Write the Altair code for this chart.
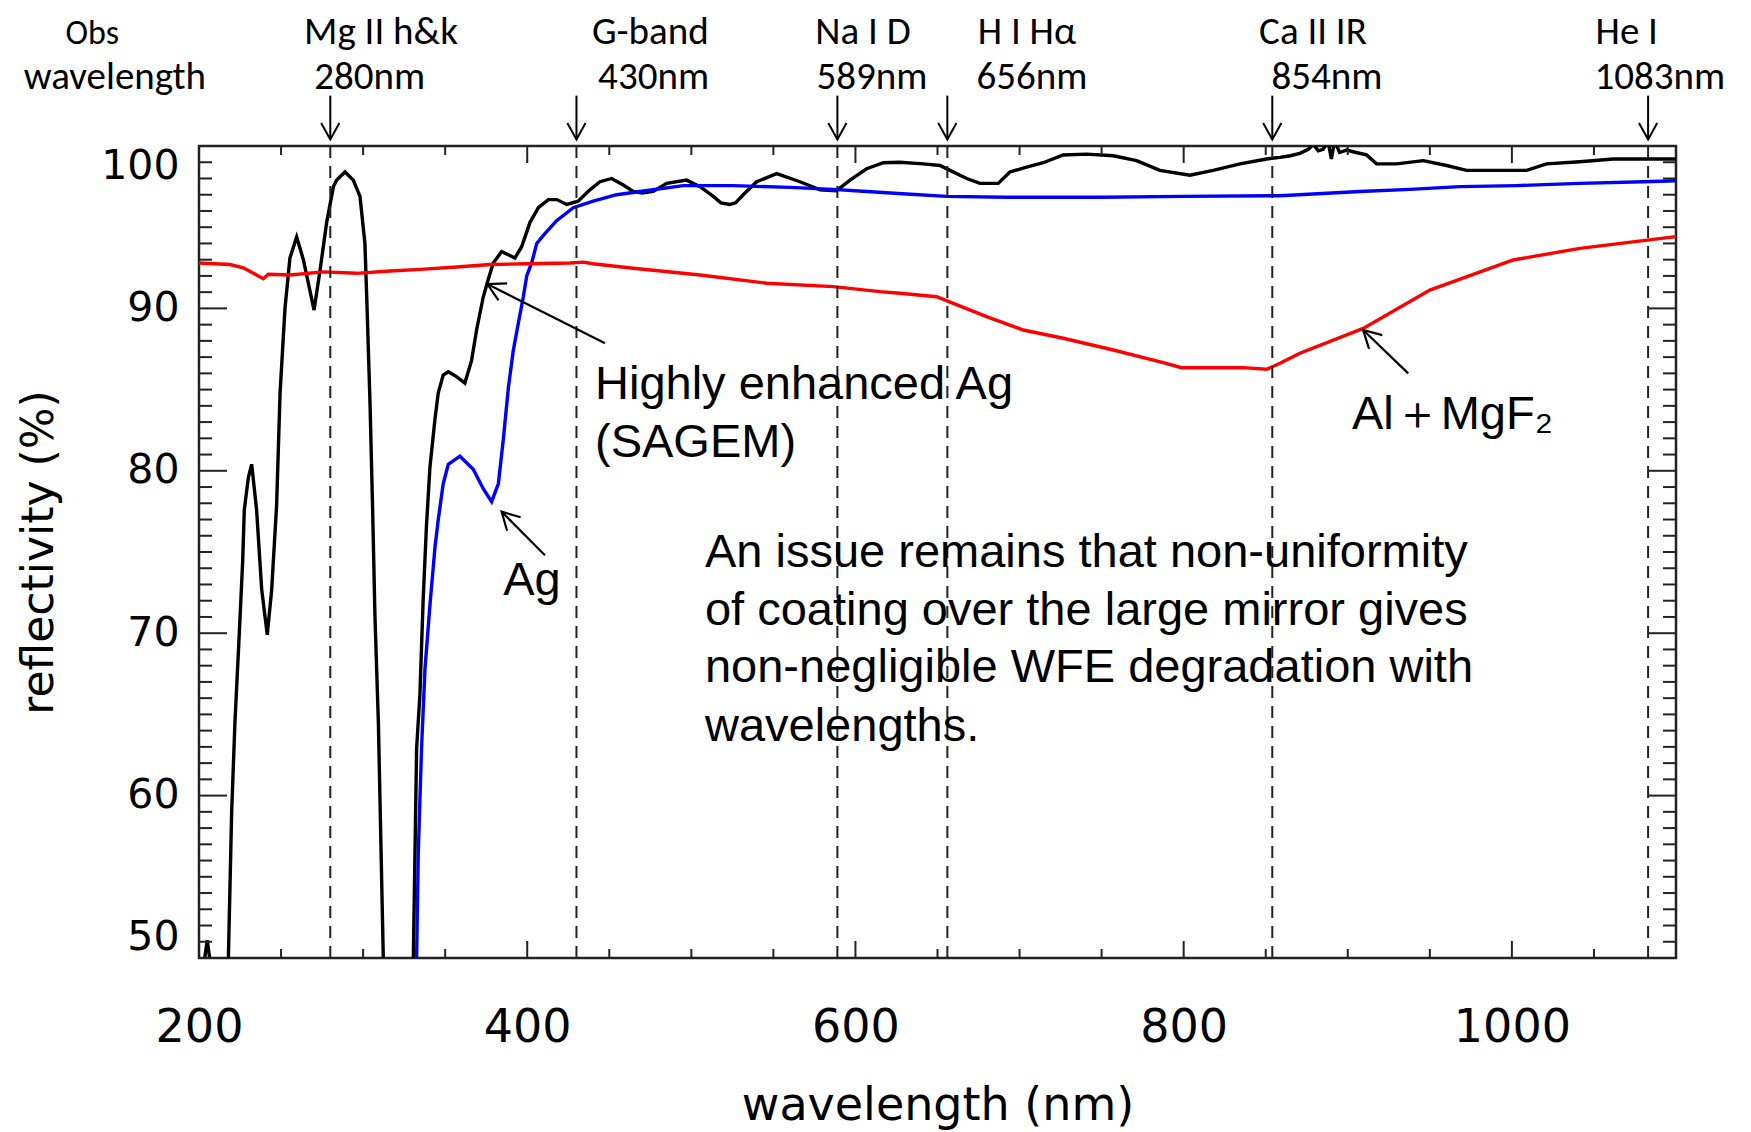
import math
import altair as alt
import pandas as pd

# ---------------- data ----------------
# Highly enhanced Ag (SAGEM) - black, three visible pieces (the curve leaves the frame below 50 %)
sagem_seg = [0, 0, 0] + [1] * 33 + [2] * 96
sagem_wl = [203.5, 205.0, 206.5,
            217.9, 219.9, 221.9, 224.6, 226.6, 227.6, 230.1, 232.1, 235.1, 238.2, 241.6, 244.3,
            247.3, 249.4, 252.4, 255.4, 259.5, 263.6, 270.1, 273.7, 277.8, 281.9, 283.9, 289.0,
            294.0, 298.1, 301.1, 302.2, 304.2, 305.8, 307.2, 309.3, 312.3,
            330.6, 332.6, 334.6, 336.6, 338.6, 340.7, 343.8, 345.8, 348.8, 351.9, 356.9, 362.0,
            366.1, 369.2, 373.2, 376.3, 379.3, 384.4, 388.5, 392.5, 396.6, 401.7, 406.8, 412.9,
            418.0, 424.1, 431.0, 438.2, 444.3, 451.4, 458.5, 464.6, 470.0, 476.8, 485.0, 497.1,
            505.3, 513.4, 518.0, 523.5, 527.0, 531.6, 539.8, 552.0, 566.2, 578.4, 588.5, 596.7,
            606.8, 617.0, 627.1, 641.3, 651.5, 657.6, 667.8, 675.9, 687.0, 694.1, 704.3, 714.4,
            726.6, 740.9, 757.1, 771.3, 785.5, 803.8, 818.0, 834.3, 850.5, 858.7, 865.0, 870.8,
            876.0, 879.0, 882.0, 885.0, 888.0, 890.0, 892.0, 895.0, 899.3, 905.0, 911.4, 917.5,
            929.7, 946.0, 960.2, 972.4, 990.7, 1009.0, 1021.1, 1041.4, 1061.7, 1100.0]
sagem_r = [50.0, 51.1, 50.0,
           50.0, 59.0, 64.5, 70.1, 74.4, 77.6, 79.6, 80.4, 77.6, 72.7, 69.9, 72.7,
           77.9, 84.8, 90.0, 93.1, 94.4, 93.0, 89.9, 92.3, 95.3, 97.5, 97.9, 98.4,
           97.9, 96.9, 94.0, 90.7, 84.2, 77.6, 71.1, 64.5, 50.0,
           50.0, 62.9, 66.2, 72.1, 76.6, 80.2, 83.2, 84.8, 85.9, 86.1, 85.8, 85.4,
           86.8, 88.7, 90.7, 91.8, 92.8, 93.5, 93.3, 93.1, 93.8, 95.3, 96.2, 96.7,
           96.7, 96.4, 96.6, 97.3, 97.8, 98.0, 97.6, 97.2, 97.1, 97.2, 97.7, 97.9,
           97.5, 96.9, 96.5, 96.4, 96.5, 97.0, 97.8, 98.3, 97.8, 97.3, 97.25, 97.9,
           98.6, 98.97, 99.0, 98.9, 98.8, 98.5, 98.0, 97.7, 97.7, 98.4, 98.7, 98.97,
           99.45, 99.5, 99.4, 99.1, 98.5, 98.2, 98.5, 98.9, 99.2, 99.3, 99.4, 99.55,
           99.8, 100.1, 99.7, 99.8, 100.3, 99.2, 100.3, 99.6, 99.75, 99.6, 99.45, 98.9,
           98.9, 99.1, 98.8, 98.5, 98.5, 98.5, 98.9, 99.03, 99.2, 99.2]

# Ag - blue
ag_wl = [332.6, 333.6, 335.6, 337.7, 340.7, 343.8, 345.8, 348.8, 351.9, 359.0, 367.1, 373.2,
         378.3, 382.4, 385.4, 388.5, 391.5, 394.6, 397.6, 399.7, 402.7, 405.8, 409.8, 417.9,
         428.1, 440.2, 454.5, 468.7, 495.1, 525.6, 560.0, 586.5, 606.8, 631.1, 655.5, 692.1,
         750.0, 799.8, 858.7, 907.4, 937.8, 968.3, 1002.9, 1041.4, 1080.0, 1100.0]
ag_r = [50.0, 56.4, 62.9, 67.8, 71.7, 75.3, 77.0, 79.2, 80.4, 80.9, 80.1, 78.9,
        78.1, 79.2, 81.9, 85.1, 87.4, 89.1, 90.7, 92.0, 92.8, 94.0, 94.5, 95.4,
        96.2, 96.6, 97.0, 97.2, 97.56, 97.56, 97.45, 97.33, 97.2, 97.04, 96.9, 96.84,
        96.84, 96.9, 96.94, 97.2, 97.33, 97.5, 97.56, 97.7, 97.8, 97.86]

# Al + MgF2 - red
al_wl = [200.0, 218.9, 227.0, 235.1, 239.2, 242.2, 255.4, 275.8, 296.1, 316.4, 335.0, 357.0,
         377.3, 400.0, 426.0, 434.2, 440.0, 464.6, 505.3, 545.9, 586.5, 614.9, 627.1, 649.5,
         659.6, 679.9, 702.2, 726.6, 757.1, 787.5, 798.7, 836.3, 850.5, 858.7, 870.8, 909.4,
         950.0, 1000.8, 1041.4, 1100.0]
al_r = [92.8, 92.7, 92.5, 92.06, 91.83, 92.1, 92.06, 92.25, 92.16, 92.3, 92.4, 92.55,
        92.7, 92.75, 92.8, 92.85, 92.75, 92.47, 92.06, 91.55, 91.34, 91.03, 90.93, 90.72,
        90.31, 89.49, 88.67, 88.16, 87.44, 86.66, 86.35, 86.35, 86.25, 86.62, 87.24, 88.77,
        91.13, 92.98, 93.7, 94.42]

# observed lines
line_wl = [280, 430, 589, 656, 854, 1083]
line_name = ["Mg II h&k", "G-band", "Na I D", "H I H\u03b1", "Ca II IR", "He I"]
line_lab = ["280nm", "430nm", "589nm", "656nm", "854nm", "1083nm"]

x_tick_labels = [200, 400, 600, 800, 1000]
y_tick_labels = [50, 60, 70, 80, 90, 100]

# ---------------- layout ----------------
W, H = 1477, 812
X_DOM, Y_DOM = [200, 1100], [50, 100]
PX_NM = W / (X_DOM[1] - X_DOM[0])
PX_PC = H / (Y_DOM[1] - Y_DOM[0])
xs = alt.Scale(domain=X_DOM, nice=False, zero=False)
ys = alt.Scale(domain=Y_DOM, nice=False, zero=False)
AXFONT = "DejaVu Sans"
TXFONT = "Liberation Sans, Arial, sans-serif"
TOPFONT = "Carlito, Lato, Liberation Sans, sans-serif"

X_AX = alt.Axis(
    values=x_tick_labels, tickSize=0, domain=False, grid=False, format="d",
    labelFlush=False, labelOverlap=False,
    labelFont=AXFONT, labelFontSize=46, labelColor="black", labelPadding=47,
    title="wavelength (nm)", titleFont=AXFONT, titleFontSize=46, titleFontWeight="normal",
    titleColor="black", titleY=147, titleBaseline="middle")
Y_AX = alt.Axis(
    values=y_tick_labels, tickSize=0, domain=False, grid=False, format="d",
    labelFont=AXFONT, labelFontSize=41, labelColor="black", labelPadding=20,
    labelFlush=True, labelOverlap=False,
    title="reflectivity (%)", titleFont=AXFONT, titleFontSize=44, titleFontWeight="normal",
    titleColor="black", titleAngle=270, titleX=-160, titleY=H / 2,
    titleBaseline="middle", titleAlign="center")


def X(field):
    return alt.X(field, scale=xs, axis=X_AX)


def Y(field):
    return alt.Y(field, scale=ys, axis=Y_AX)


rows = []
for s, w, r in zip(sagem_seg, sagem_wl, sagem_r):
    rows.append({"series": "SAGEM", "key": f"S{s}", "wl": w, "r": r})
for w, r in zip(ag_wl, ag_r):
    rows.append({"series": "Ag", "key": "Ag", "wl": w, "r": r})
for w, r in zip(al_wl, al_r):
    rows.append({"series": "AlMgF2", "key": "Al", "wl": w, "r": r})
curves_df = pd.DataFrame(rows)

curves = alt.Chart(curves_df).mark_line(strokeWidth=3.4, clip=True).encode(
    x=X("wl:Q"),
    y=Y("r:Q"),
    color=alt.Color("series:N", scale=alt.Scale(domain=["SAGEM", "Ag", "AlMgF2"],
                                                range=["#000000", "#0000ff", "#ff0000"]),
                    legend=None),
    detail="key:N",
)


# inner ticks of the IDL box
def tick_layer(vals, axis, side, length):
    df = pd.DataFrame({"v": vals})
    if axis == "x":
        y0 = H if side == "bottom" else 0
        y1 = H - length if side == "bottom" else length
        enc = dict(x=X("v:Q"), y=alt.value(y0), y2=alt.value(y1))
    else:
        x0 = 0 if side == "left" else W
        x1 = length if side == "left" else W - length
        enc = dict(y=Y("v:Q"), x=alt.value(x0), x2=alt.value(x1))
    return alt.Chart(df).mark_rule(color="#222", strokeWidth=2).encode(**enc)


x_minor = [v for v in range(250, 1100, 50) if v not in x_tick_labels]
y_minor = [v for v in range(51, 100) if v % 10]
ticks = [
    tick_layer(x_tick_labels, "x", "bottom", 17), tick_layer(x_tick_labels, "x", "top", 17),
    tick_layer(x_minor, "x", "bottom", 9), tick_layer(x_minor, "x", "top", 9),
    tick_layer(y_tick_labels, "y", "left", 28), tick_layer(y_tick_labels, "y", "right", 28),
    tick_layer(y_minor, "y", "left", 13), tick_layer(y_minor, "y", "right", 13),
]

lines_df = pd.DataFrame({"wl": line_wl, "name": line_name, "lab": line_lab})
dashed = alt.Chart(lines_df).mark_rule(color="#222", strokeWidth=2, strokeDash=[12, 8]).encode(
    x=X("wl:Q"), y=alt.value(0), y2=alt.value(H))

# arrows above the frame
ARROW_TOP, ARROW_TIP = 103.1, 100.4
top_arrows = alt.Chart(lines_df).mark_rule(color="black", strokeWidth=2).encode(
    x=X("wl:Q"), y=Y("a:Q"), y2="b:Q",
).transform_calculate(a=str(ARROW_TOP), b=str(ARROW_TIP))

HEAD = "M-0.55,1L0,0L0.55,1"
top_heads = alt.Chart(lines_df).mark_point(shape=HEAD, filled=False, size=1100, strokeWidth=2,
                                           color="black", opacity=1, angle=180).encode(
    x=X("wl:Q"), y=Y("b:Q"),
).transform_calculate(b=str(ARROW_TIP))

# top text labels (baseline positions in nm / % so they sit on the same scales)
ROW1, ROW2 = 106.28, 103.51
top_text_df = pd.DataFrame({
    "x": [310.9, 475.0, 604.6, 704.5, 878.8, 1070.0, 304.0, 477.0, 610.0, 707.6, 887.3, 1090.2, 148.8],
    "y": [ROW1] * 6 + [ROW2] * 7,
    "t": line_name + line_lab + ["wavelength"],
})
top_text = alt.Chart(top_text_df).mark_text(font=TOPFONT, fontSize=39, color="black",
                                            baseline="alphabetic", align="center").encode(
    x=X("x:Q"), y=Y("y:Q"), text="t:N")
obs_text = alt.Chart(pd.DataFrame({"x": [135.0], "y": [ROW1], "t": ["Obs"]})).mark_text(
    font=TOPFONT, fontSize=34, color="black", baseline="alphabetic", align="center").encode(
    x=X("x:Q"), y=Y("y:Q"), text="t:N")

# annotations inside the plot
ann_df = pd.DataFrame({
    "x": [441.3, 441.3, 508.3, 508.3, 508.3, 508.3, 902.5],
    "y": [85.28, 81.71, 74.94, 71.37, 67.86, 64.22, 83.44],
    "t": ["Highly enhanced Ag", "(SAGEM)",
          "An issue remains that non-uniformity",
          "of coating over the large mirror gives",
          "non-negligible  WFE degradation with",
          "wavelengths.",
          "Al\uff0bMgF\u2082"],
})
ann_text = alt.Chart(ann_df).mark_text(font=TXFONT, fontSize=47, color="black",
                                       baseline="middle", align="left").encode(
    x=X("x:Q"), y=Y("y:Q"), text="t:N")
ag_text = alt.Chart(pd.DataFrame({"x": [402.9], "y": [73.2], "t": ["Ag"]})).mark_text(
    font=TXFONT, fontSize=47, color="black", baseline="middle", align="center").encode(
    x=X("x:Q"), y=Y("y:Q"), text="t:N")

# annotation arrows: tail -> tip
arr_tail_x = [447.4, 410.8, 936.8]
arr_tail_y = [87.85, 74.8, 86.0]
arr_tip_x = [375.7, 384.4, 909.4]
arr_tip_y = [91.5, 77.48, 88.67]
ang = []
for tx, ty, hx, hy in zip(arr_tail_x, arr_tail_y, arr_tip_x, arr_tip_y):
    dx = (hx - tx) * PX_NM
    dy = -(hy - ty) * PX_PC
    ang.append(math.degrees(math.atan2(dx, -dy)) % 360)
arr_df = pd.DataFrame({"x": arr_tail_x, "y": arr_tail_y, "x2": arr_tip_x, "y2": arr_tip_y, "ang": ang})
arr_lines = alt.Chart(arr_df).mark_rule(color="black", strokeWidth=2.2).encode(
    x=X("x:Q"), y=Y("y:Q"), x2="x2:Q", y2="y2:Q")
arr_heads = alt.Chart(arr_df).mark_point(shape=HEAD, filled=False, size=1200, strokeWidth=2.2,
                                         color="black", opacity=1).encode(
    x=X("x2:Q"), y=Y("y2:Q"), angle=alt.Angle("ang:Q", scale=None))

chart = alt.layer(
    curves, *ticks, dashed, top_arrows, top_heads, top_text, obs_text,
    ann_text, ag_text, arr_lines, arr_heads,
).properties(
    width=W, height=H,
    padding={"left": 191, "top": 138, "right": 60, "bottom": 172},
    autosize=alt.AutoSizeParams(type="none"),
    background="white",
).configure_view(stroke="#222", strokeWidth=2.5)

chart.save("out.html", embed_options={"renderer": "svg", "actions": False})
